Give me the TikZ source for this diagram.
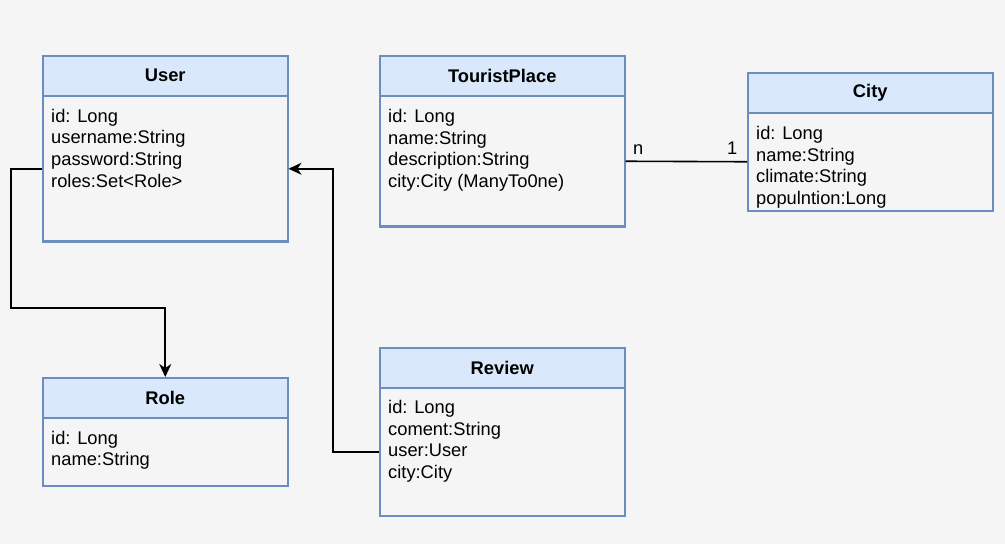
\documentclass[tikz,border=0pt]{standalone}
\usepackage{fontspec}
\setmainfont{Liberation Sans}
\usetikzlibrary{arrows.meta,calc}
\definecolor{bgc}{HTML}{F5F5F5}
\definecolor{hdrc}{HTML}{DAE8FC}
\definecolor{bdrc}{HTML}{6C8EBF}
\begin{document}
\begin{tikzpicture}[x=1pt,y=-1pt,
  hdrbox/.style={draw=bdrc, fill=hdrc, line width=1.5pt, minimum width=245pt, minimum height=40pt, inner sep=0pt, anchor=north west, font=\fontsize{18.3}{21}\selectfont\bfseries},
  bodybox/.style={draw=bdrc, fill=bgc, line width=1.5pt, minimum width=245pt, inner sep=0pt, anchor=north west},
  attr/.style={anchor=base west, inner sep=0pt, font=\fontsize{18.3}{21}\selectfont},
  conn/.style={draw=black, line width=1.6pt},
  arr/.style={-{Stealth[length=13pt,width=12pt,inset=4pt]}},
  sepline/.style={draw=bdrc, line width=1.5pt}
]
\fill[bgc] (0,0) rectangle (1005,544);
\useasboundingbox (0,0) rectangle (1005,544);

% User
\node[bodybox, minimum height=146pt] (userb) at (42,95) {};
\node[hdrbox] (userh) at (42,55) {User};
\draw[sepline] ([yshift=1.8pt]userb.south west) -- ([yshift=1.8pt]userb.south east);
\node[attr] (u1) at (51,122) {id: Long};
\node[attr] (u2) at (51,143.7) {username:String};
\node[attr] (u3) at (51,165.4) {password:String};
\node[attr] (u4) at (51,187.1) {roles:Set<Role>};

% TouristPlace
\node[bodybox, minimum height=131pt] (tpb) at (379,95) {};
\node[hdrbox] (tph) at (379,55) {TouristPlace};
\draw[sepline] ([yshift=1.8pt]tpb.south west) -- ([yshift=1.8pt]tpb.south east);
\node[attr] (t1) at (388,122.5) {id: Long};
\node[attr] (t2) at (388,144.2) {name:String};
\node[attr] (t3) at (388,165.9) {description:String};
\node[attr] (t4) at (388,187.6) {city:City (ManyTo0ne)};

% City
\node[bodybox, minimum height=98pt] (cityb) at (747,112) {};
\node[hdrbox] (cityh) at (747,72) {City};
\node[attr] (c1) at (756,139.3) {id: Long};
\node[attr] (c2) at (756,161) {name:String};
\node[attr] (c3) at (756,182.7) {climate:String};
\node[attr] (c4) at (756,204.4) {populntion:Long};

% Role
\node[bodybox, minimum height=68pt] (roleb) at (42,417) {};
\node[hdrbox] (roleh) at (42,377) {Role};
\node[attr] (r1) at (51,444) {id: Long};
\node[attr] (r2) at (51,465.7) {name:String};

% Review
\node[bodybox, minimum height=128pt] (revb) at (379,387) {};
\node[hdrbox] (revh) at (379,347) {Review};
\node[attr] (v1) at (388,413.5) {id: Long};
\node[attr] (v2) at (388,435.2) {coment:String};
\node[attr] (v3) at (388,456.9) {user:User};
\node[attr] (v4) at (388,478.6) {city:City};

% connectors
\coordinate (bendA) at (11,308);
\coordinate (bendB) at (333,300);
\draw[conn, arr] (userb.west) -| (bendA) -| (roleh.north);
\draw[conn, arr] (revb.west) -| (bendB) |- (userb.east);
\draw[conn] (tpb.east) -- (cityb.west);
\node[attr] (ln) at (633,154) {n};
\node[attr] (l1) at (727,154) {1};
\end{tikzpicture}
\end{document}
